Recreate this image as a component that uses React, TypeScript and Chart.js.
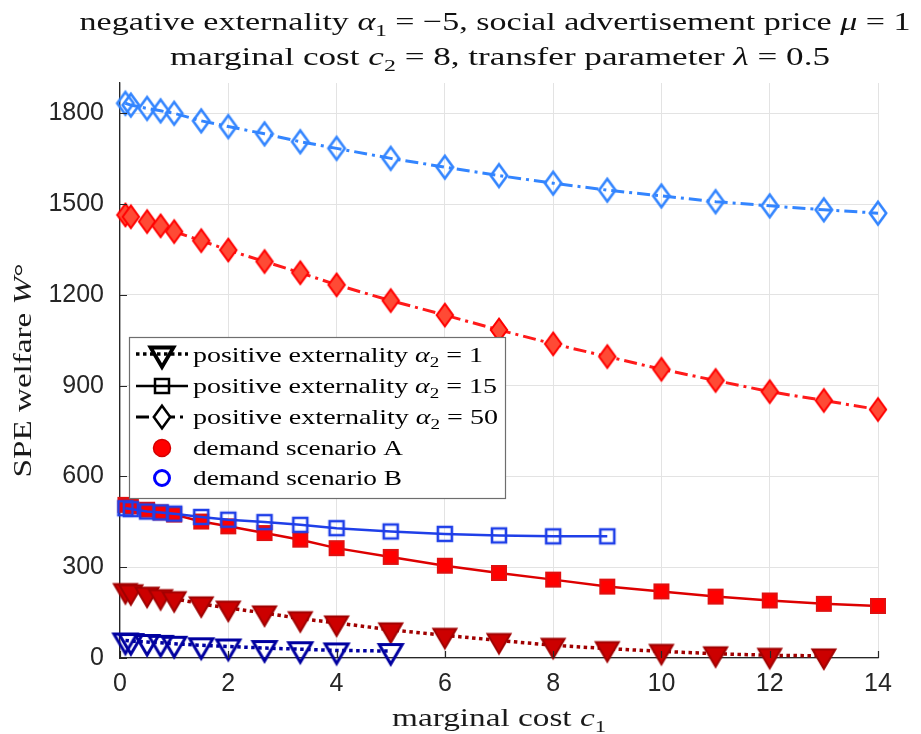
import React, { useEffect, useRef } from 'react';
import { Chart, registerables } from 'chart.js';

Chart.register(...registerables);

// marginal cost c1 at which the equilibrium was evaluated
const marginalCost = [0.1, 0.2, 0.5, 0.75, 1, 1.5, 2, 2.67, 3.33, 4, 5, 6, 7, 8, 9, 10, 11, 12, 13, 14];

// SPE welfare W° for positive externality alpha2 = 1
const welfareA1 = [223, 219, 211, 203, 196, 179, 165, 149, 130, 116, 93, 75, 58, 42, 31, 22, 14, 9, 7];
const welfareB1 = [58, 56, 53, 50, 47, 42, 38, 33, 29, 25, 23];

// SPE welfare W° for positive externality alpha2 = 15
const welfareA15 = [506, 501, 490, 481, 474, 451, 435, 413, 391, 363, 334, 305, 281, 259, 236, 220, 203, 190, 179, 172];
const welfareB15 = [495, 492, 484, 481, 477, 466, 457, 449, 440, 429, 418, 410, 405, 402, 402];

// SPE welfare W° for positive externality alpha2 = 50
const welfareA50 = [1464, 1458, 1442, 1428, 1409, 1379, 1348, 1310, 1273, 1233, 1181, 1133, 1084, 1038, 996, 954, 917, 880, 851, 821];
const welfareB50 = [1833, 1827, 1816, 1808, 1800, 1775, 1756, 1732, 1706, 1684, 1651, 1622, 1594, 1569, 1546, 1527, 1508, 1494, 1481, 1470];

const xTickValues = [0, 2, 4, 6, 8, 10, 12, 14];
const yTickValues = [0, 300, 600, 900, 1200, 1500, 1800];

type Seg = { t: string; it?: boolean; sub?: boolean };

const titleLine1: Seg[] = [
  { t: 'negative externality ' }, { t: 'α', it: true }, { t: '1', sub: true },
  { t: ' = −5, social advertisement price ' }, { t: 'μ', it: true }, { t: ' = 1' },
];
const titleLine2: Seg[] = [
  { t: 'marginal cost ' }, { t: 'c', it: true }, { t: '2', sub: true },
  { t: ' = 8, transfer parameter ' }, { t: 'λ', it: true }, { t: ' = 0.5' },
];
const xTitle: Seg[] = [{ t: 'marginal cost ' }, { t: 'c', it: true }, { t: '1', sub: true }];
const yTitle: Seg[] = [{ t: 'SPE welfare ' }, { t: 'W', it: true }, { t: '°' }];

const alphaLabel = (v: string): Seg[] => [
  { t: 'positive externality ' }, { t: 'α', it: true }, { t: '2', sub: true }, { t: ' = ' + v },
];
const legendLabels: Seg[][] = [
  alphaLabel('1'),
  alphaLabel('15'),
  alphaLabel('50'),
  [{ t: 'demand scenario A' }],
  [{ t: 'demand scenario B' }],
];

const SERIF = '"Liberation Serif", "Times New Roman", serif';
const SANS = '"Liberation Sans", Arial, sans-serif';

type Kind = 'tri' | 'square' | 'diamond';

function tracePath(g: CanvasRenderingContext2D, kind: Kind, cx: number, cy: number) {
  g.beginPath();
  if (kind === 'tri') {
    const W = 23, H = 19.5;
    g.moveTo(cx - W / 2, cy - H / 3);
    g.lineTo(cx + W / 2, cy - H / 3);
    g.lineTo(cx, cy + (2 * H) / 3);
    g.closePath();
  } else if (kind === 'square') {
    const S = 14;
    g.rect(cx - S / 2, cy - S / 2, S, S);
  } else {
    const a = 8.2, b = 11.3;
    g.moveTo(cx, cy - b);
    g.lineTo(cx + a, cy);
    g.lineTo(cx, cy + b);
    g.lineTo(cx - a, cy);
    g.closePath();
  }
}

function makeMarker(kind: Kind, stroke: string, fill: string | null, lw: number) {
  const c = document.createElement('canvas');
  c.width = 40;
  c.height = 40;
  const g = c.getContext('2d')!;
  tracePath(g, kind, 20, 20);
  if (fill) {
    g.fillStyle = fill;
    g.fill();
  }
  g.lineWidth = lw;
  g.strokeStyle = stroke;
  g.stroke();
  return c;
}

function drawRich(
  ctx: CanvasRenderingContext2D,
  segs: Seg[],
  x: number,
  y: number,
  size: number,
  targetW: number,
  align: 'left' | 'center',
) {
  const fontFor = (s: Seg) => `${s.it ? 'italic ' : ''}${s.sub ? size * 0.68 : size}px ${SERIF}`;
  const widths = segs.map((s) => {
    ctx.font = fontFor(s);
    return ctx.measureText(s.t).width;
  });
  const nat = widths.reduce((p, q) => p + q, 0);
  ctx.save();
  ctx.translate(x, y);
  ctx.scale(targetW / nat, 1);
  ctx.textAlign = 'left';
  ctx.textBaseline = 'alphabetic';
  let cx = align === 'center' ? -nat / 2 : 0;
  segs.forEach((s, i) => {
    ctx.font = fontFor(s);
    ctx.fillText(s.t, cx, s.sub ? size * 0.24 : 0);
    cx += widths[i];
  });
  ctx.restore();
}

const series = (ys: number[]) => ys.map((y, i) => ({ x: marginalCost[i], y }));

const DOTTED = [3.5, 3.5];
const DASHDOT = [13, 5, 3, 5];

export default function App() {
  const ref = useRef<HTMLCanvasElement>(null);

  useEffect(() => {
    const canvas = ref.current;
    if (!canvas) return;

    const decor = {
      id: 'decor',
      afterDraw(chart: any) {
        const { ctx, chartArea: a, scales } = chart;
        ctx.save();

        // inward tick marks
        ctx.strokeStyle = '#262626';
        ctx.lineWidth = 1.2;
        ctx.beginPath();
        yTickValues.forEach((v) => {
          const y = Math.round(scales.y.getPixelForValue(v)) + 0.5;
          ctx.moveTo(a.left, y);
          ctx.lineTo(a.left + 7, y);
        });
        xTickValues.forEach((v) => {
          const x = Math.round(scales.x.getPixelForValue(v)) + 0.5;
          ctx.moveTo(x, a.bottom);
          ctx.lineTo(x, a.bottom - 7);
        });
        ctx.stroke();

        // titles
        ctx.fillStyle = '#111';
        const mid = (a.left + a.right) / 2;
        drawRich(ctx, titleLine1, mid - 4, 30, 26, 831, 'center');
        drawRich(ctx, titleLine2, mid + 1, 65, 26, 660, 'center');
        ctx.fillStyle = '#1a1a1a';
        drawRich(ctx, xTitle, mid, 726, 26, 214, 'center');
        ctx.save();
        ctx.translate(31, (a.top + a.bottom) / 2);
        ctx.rotate(-Math.PI / 2);
        drawRich(ctx, yTitle, 0, 0, 26, 214, 'center');
        ctx.restore();

        // legend box
        const bx = 129, by = 337, bw = 376, bh = 161;
        ctx.fillStyle = '#fff';
        ctx.fillRect(bx, by, bw, bh);
        ctx.strokeStyle = '#6e6e6e';
        ctx.lineWidth = 1.2;
        ctx.strokeRect(bx + 0.5, by + 0.5, bw, bh);

        const rows = [355, 386, 417, 448, 478];
        const widths = [290, 304, 305, 210, 209];
        const sx0 = 136, sx1 = 188, mx = 162;

        // row 1: dotted line, downward triangle
        ctx.strokeStyle = '#000';
        ctx.lineWidth = 3.5;
        ctx.setLineDash(DOTTED);
        ctx.beginPath();
        ctx.moveTo(sx0, rows[0] - 1);
        ctx.lineTo(sx1, rows[0] - 1);
        ctx.stroke();
        ctx.setLineDash([]);
        tracePath(ctx, 'tri', mx, rows[0] - 1);
        ctx.lineWidth = 3.8;
        ctx.stroke();

        // row 2: solid line, square
        ctx.lineWidth = 2.5;
        ctx.beginPath();
        ctx.moveTo(sx0, rows[1]);
        ctx.lineTo(sx1, rows[1]);
        ctx.stroke();
        tracePath(ctx, 'square', mx, rows[1]);
        ctx.stroke();

        // row 3: dash-dot line, diamond
        ctx.lineWidth = 3;
        ctx.setLineDash(DASHDOT);
        ctx.beginPath();
        ctx.moveTo(sx0, rows[2]);
        ctx.lineTo(sx1, rows[2]);
        ctx.stroke();
        ctx.setLineDash([]);
        tracePath(ctx, 'diamond', mx, rows[2]);
        ctx.fillStyle = '#fff';
        ctx.fill();
        ctx.lineWidth = 2.5;
        ctx.stroke();

        // row 4: filled red circle
        ctx.beginPath();
        ctx.arc(mx, rows[3], 8.5, 0, Math.PI * 2);
        ctx.fillStyle = '#ff0000';
        ctx.fill();
        ctx.lineWidth = 1.5;
        ctx.strokeStyle = '#d40000';
        ctx.stroke();

        // row 5: open blue circle
        ctx.beginPath();
        ctx.arc(mx, rows[4], 7.5, 0, Math.PI * 2);
        ctx.lineWidth = 3;
        ctx.strokeStyle = '#0000ff';
        ctx.stroke();

        ctx.fillStyle = '#000';
        legendLabels.forEach((segs, i) => {
          drawRich(ctx, segs, 193, rows[i] + 7, 21, widths[i], 'left');
        });

        ctx.restore();
      },
    };

    const chart = new Chart(canvas, {
      type: 'line',
      data: {
        datasets: [
          {
            label: 'B, α2 = 50',
            data: series(welfareB50),
            borderColor: '#3385ff',
            borderWidth: 3,
            borderDash: DASHDOT,
            pointStyle: makeMarker('diamond', '#3385ff', null, 2.6) as any,
            pointRadius: 11,
          },
          {
            label: 'A, α2 = 50',
            data: series(welfareA50),
            borderColor: '#ff1a1a',
            borderWidth: 3,
            borderDash: DASHDOT,
            pointStyle: makeMarker('diamond', '#ff0000', '#ff4a35', 2) as any,
            pointRadius: 11,
          },
          {
            label: 'B, α2 = 15',
            data: series(welfareB15),
            borderColor: '#1f3fe8',
            borderWidth: 2.5,
            pointStyle: makeMarker('square', '#1f3fe8', null, 2.6) as any,
            pointRadius: 10,
          },
          {
            label: 'A, α2 = 15',
            data: series(welfareA15),
            borderColor: '#dd0000',
            borderWidth: 2.5,
            pointStyle: makeMarker('square', '#e01010', '#ff0000', 2) as any,
            pointRadius: 10,
          },
          {
            label: 'B, α2 = 1',
            data: series(welfareB1),
            borderColor: '#0000a0',
            borderWidth: 3.5,
            borderDash: DOTTED,
            pointStyle: makeMarker('tri', '#0000a0', null, 3) as any,
            pointRadius: 12,
          },
          {
            label: 'A, α2 = 1',
            data: series(welfareA1),
            borderColor: '#a00000',
            borderWidth: 3.5,
            borderDash: DOTTED,
            pointStyle: makeMarker('tri', '#a00000', '#cc0000', 2) as any,
            pointRadius: 12,
          },
        ].map((d) => ({ ...d, fill: false, tension: 0, clip: false as any, borderCapStyle: 'butt' as const })),
      },
      options: {
        animation: false,
        responsive: false,
        events: [],
        layout: { padding: { top: 83, right: 43, left: 0, bottom: 0 } },
        plugins: {
          legend: { display: false },
          title: { display: false },
          tooltip: { enabled: false },
        },
        scales: {
          x: {
            type: 'linear',
            min: 0,
            max: 14,
            afterBuildTicks: (s: any) => {
              s.ticks = xTickValues.map((v) => ({ value: v }));
            },
            afterFit: (s: any) => {
              s.height = 76;
            },
            ticks: {
              color: '#262626',
              font: { family: SANS, size: 25 },
              padding: 11,
              maxRotation: 0,
              callback: (v: any) => String(v),
            },
            grid: { color: '#e3e3e3', lineWidth: 1, drawTicks: false },
            border: { display: true, color: '#262626', width: 1.3 },
          },
          y: {
            type: 'linear',
            min: 0,
            max: 1900,
            afterBuildTicks: (s: any) => {
              s.ticks = yTickValues.map((v) => ({ value: v }));
            },
            afterFit: (s: any) => {
              s.width = 120;
            },
            ticks: {
              color: '#262626',
              font: { family: SANS, size: 25 },
              padding: 16,
              callback: (v: any) => String(v),
            },
            grid: { color: '#e3e3e3', lineWidth: 1, drawTicks: false },
            border: { display: true, color: '#262626', width: 1.3 },
          },
        },
      },
      plugins: [decor],
    });

    return () => chart.destroy();
  }, []);

  return (
    <div style={{ position: 'absolute', left: 0, top: 0, width: 921, height: 734, background: '#fff' }}>
      <canvas ref={ref} width={921} height={734} style={{ width: 921, height: 734, display: 'block' }} />
    </div>
  );
}
